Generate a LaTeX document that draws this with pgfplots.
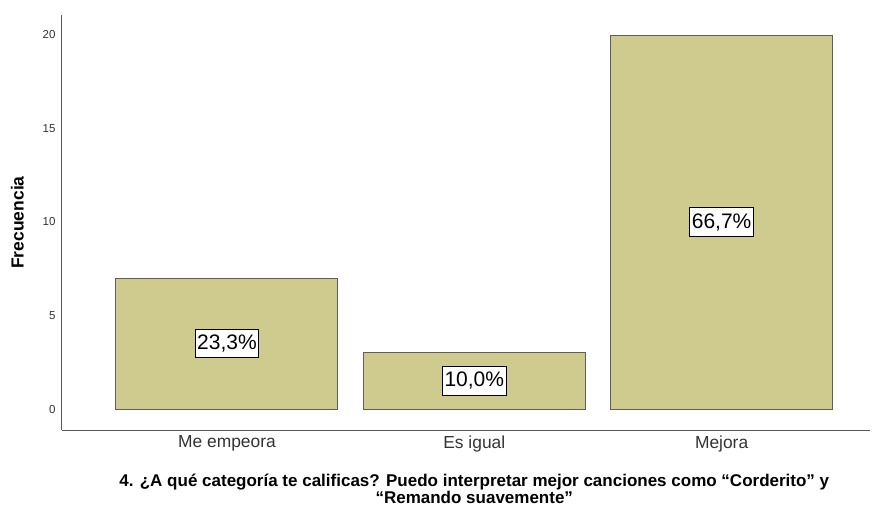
\documentclass[border=0pt]{standalone}
\usepackage{fontspec}
\setmainfont{Liberation Sans}
\usepackage{pgfplots}
\pgfplotsset{compat=1.18}
\definecolor{barfill}{RGB}{207,203,143}
\definecolor{baredge}{RGB}{95,95,90}
\definecolor{axisgray}{RGB}{90,90,90}
\begin{document}
\begin{tikzpicture}
\useasboundingbox (-62pt,-76pt) rectangle (813pt,430pt);
\begin{axis}[
  at={(0,0)},anchor=south west,
  scale only axis,width=808pt,height=415pt,
  xmin=-0.667,xmax=2.6,ymin=-1.12,ymax=21.07,
  axis x line=bottom,axis y line=left,
  axis line style={-,axisgray,line width=1pt},
  major tick length=0pt,
  xtick={0,1,2},xticklabels={Me empeora,Es igual,Mejora},
  ytick={0,5,10,15,20},
  /pgf/number format/assume math mode=true,
  x tick label style={font=\fontsize{17.4}{17.4}\selectfont,text=black!80,yshift=-2pt},
  y tick label style={font=\fontsize{11.5}{11.5}\selectfont,text=black!80,xshift=-3pt},
  ylabel={Frecuencia},
  ylabel style={font=\bfseries\fontsize{17.5}{17.5}\selectfont,at={(ticklabel cs:0.5)},yshift=12pt},
  clip=false,
]
\addplot[ybar,bar width=222pt,fill=barfill,draw=baredge,line width=1pt]
  coordinates {(0,7) (1,3) (2,20)};
\addplot[draw=none,mark=none,nodes near coords,point meta=explicit symbolic,
  every node near coord/.append style={anchor=center,fill=white,draw=black,line width=0.8pt,
    inner xsep=2pt,inner ysep=5.5pt,font=\fontsize{21}{21}\selectfont,text=black}]
  coordinates {(0,3.5) [{23,3\%}] (1,1.5) [{10,0\%}] (2,10) [{66,7\%}]};
\node[anchor=north,align=center,inner sep=0pt,font=\bfseries\fontsize{17}{14}\selectfont,yshift=-44pt]
  at (axis cs:1,-1.12) {4. ¿A qué categoría te calificas? Puedo interpretar mejor canciones como “Corderito” y\\“Remando suavemente”};
\end{axis}
\end{tikzpicture}
\end{document}
